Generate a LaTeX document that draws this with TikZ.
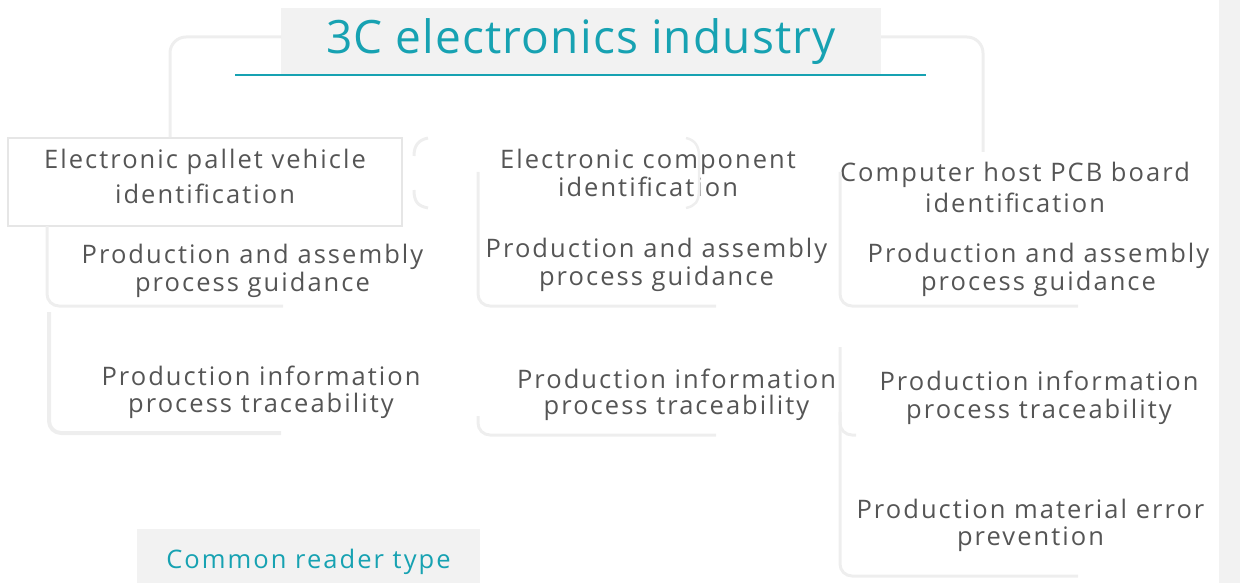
\documentclass[tikz,border=0pt]{standalone}
\usepackage{fontspec}
\setmainfont{Open Sans}[LetterSpace=8]
\newfontfamily\titlefont{Open Sans}[LetterSpace=2.5]
\definecolor{teal1}{HTML}{17A2B2}
\definecolor{txtgray}{HTML}{555555}
\definecolor{lnk}{HTML}{EEEEEE}
\definecolor{boxln}{HTML}{E6E6E6}
\definecolor{bg}{HTML}{F2F2F2}
\begin{document}
\begin{tikzpicture}[x=1pt,y=-1pt,
 conn/.style={draw=lnk, line width=3pt, rounded corners=12pt},
 txt/.style={text=txtgray, align=center, inner sep=0pt, font=\fontsize{25.5}{28}\selectfont},
]
\useasboundingbox (0,0) rectangle (1240,583);
\fill[bg] (1219,0) rectangle (1240,583);
% title
\node[fill=bg, minimum width=600pt, minimum height=67pt, inner sep=0pt, text=teal1,
  font=\titlefont\fontsize{46}{50}\selectfont] (title) at (581,41.5) {3C electronics industry};
\coordinate (ulA) at (235,75);
\coordinate (ulB) at (926,75);
\draw[teal1, line width=2pt] (ulA) -- (ulB);
% first level
\node[draw=boxln, line width=1.5pt, fill=white, minimum width=394pt, minimum height=88pt, inner sep=0pt] (b1) at (205,182) {};
\coordinate (tl) at (281,37);
\coordinate (tr) at (881,37);
\draw[conn, rounded corners=16pt] (tl) -| (b1.north -| 170,0);
\coordinate (c3top) at (983,152);
\draw[conn, rounded corners=16pt] (tr) -| (c3top);
\node[txt, font=\fontsize{25.5}{35}\selectfont] (t1) at (205,176.5) {Electronic pallet vehicle\\identification};
\node[txt] (t2) at (648,173) {Electronic component\\identification};
\node[txt, font=\fontsize{25.5}{31}\selectfont] (t3) at (1015,187.5) {Computer host PCB board\\identification};
% brackets
\coordinate (bk1a) at (428,138); \coordinate (bk1b) at (428,208);
\draw[draw=lnk, line width=3pt] (bk1a) .. controls (418,140) and (414,146) .. (414,156);
\draw[draw=lnk, line width=3pt] (414,190) .. controls (414,202) and (418,206) .. (bk1b);
\coordinate (bk2a) at (686,138); \coordinate (bk2b) at (686,208);
\draw[draw=lnk, line width=2.5pt] (bk2a) .. controls (695,140) and (699,146) .. (699,156) -- (699,190) .. controls (699,202) and (695,206) .. (bk2b);
% column 1
\coordinate (a1) at (47,226); \coordinate (a2) at (283,306);
\draw[conn] (a1) |- (a2);
\coordinate (a3) at (49,312); \coordinate (a4) at (281,433);
\draw[conn, line width=4pt] (a3) |- (a4);
% column 2
\coordinate (m1) at (478,172); \coordinate (m2) at (716,306);
\draw[conn] (m1) |- (m2);
\coordinate (m3) at (478,416); \coordinate (m4) at (716,435);
\draw[conn] (m3) |- (m4);
% column 3
\coordinate (r1) at (840,172); \coordinate (r2) at (1078,306);
\draw[conn] (r1) |- (r2);
\coordinate (r3) at (840,347); \coordinate (r4) at (1078,576);
\draw[conn] (r3) |- (r4);
\coordinate (r5) at (840,412); \coordinate (r6) at (856,435);
\draw[conn] (r5) |- (r6);
% second level texts
\node[txt] (g1) at (252.5,270.5) {Production and assembly\\process guidance};
\node[txt] (g2) at (656.5,264.5) {Production and assembly\\process guidance};
\node[txt] (g3) at (1038.5,269.5) {Production and assembly\\process guidance};
\node[txt, font=\fontsize{25.5}{27}\selectfont] (p1) at (261,392.5) {Production information\\process traceability};
\node[txt, font=\fontsize{25.5}{26}\selectfont] (p2) at (676.5,395) {Production information\\process traceability};
\node[txt, font=\fontsize{25.5}{28}\selectfont] (p3) at (1039,398) {Production information\\process traceability};
\node[txt, font=\fontsize{25.5}{27}\selectfont] (e3) at (1030.5,525) {Production material error\\prevention};
% common reader type
\node[fill=bg, minimum width=343pt, minimum height=66pt, inner sep=0pt] (crtbox) at (308.5,562) {};
\node[inner sep=0pt, text=teal1, font=\fontsize{25.5}{28}\selectfont] (crt) at (308.5,562) {Common reader type};
\end{tikzpicture}
\end{document}
